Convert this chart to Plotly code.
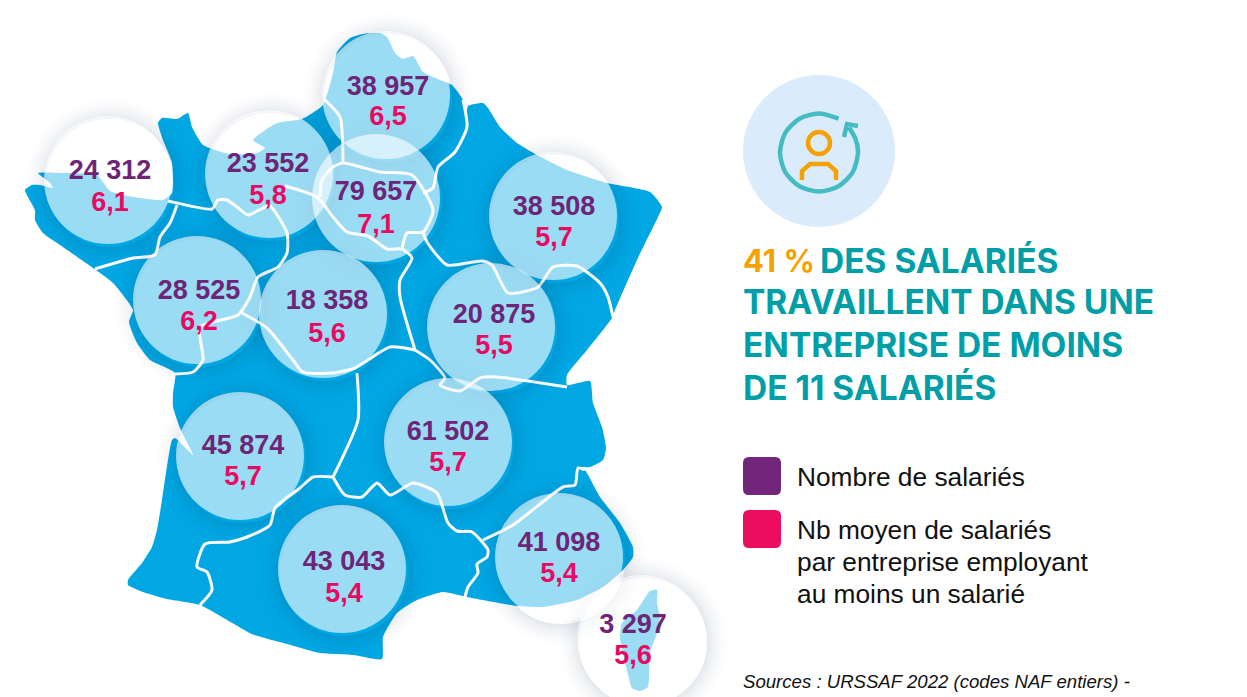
import plotly.graph_objects as go

W, H = 1247, 697

# --- data -------------------------------------------------------------
salaries = [24312, 23552, 38957, 79657, 38508, 28525, 18358, 20875, 45874, 61502, 43043, 41098, 3297]
moyenne = [6.1, 5.8, 6.5, 7.1, 5.7, 6.2, 5.6, 5.5, 5.7, 5.7, 5.4, 5.4, 5.6]
bubble_x = [108, 269, 386, 376, 553, 197, 323, 491, 240, 448, 342, 559, 641]
bubble_y = [180, 174, 95, 198, 216, 300, 314, 327, 456, 442, 569, 557, 639]
label_x = [110, 268, 388, 376, 554, 199, 327, 494, 243, 448, 344, 559, 633]
label1_y = [172, 165, 88, 193, 208, 292, 302, 316, 447, 433, 563, 544, 626]
label2_y = [204, 197, 118, 226, 239, 323, 335, 347, 478, 464, 595, 575, 657]
BUBBLE_D = 128

france = [(25,190),(32,185),(40,185),(53,188),(50,183),(38,173),(67,173),(97,175),(110,191),(133,197),
 (163,200),(172,193),(172,163),(163,140),(158,123),(162,118),(177,119),(188,113),(192,127),(203,145),
 (230,154),(257,153),(265,148),(253,140),(277,123),(302,119),(323,105),(333,73),(337,52),(350,38),
 (363,34),(380,33),(387,37),(395,53),(403,59),(413,56),(423,72),(440,80),(452,85),(463,100),(466,117),
 (468,106),(483,103),(488,108),(500,127),(517,143),(537,155),(567,170),(607,183),(650,192),(662,207),
 (658,217),(637,260),(615,310),(612,318),(587,350),(567,375),(567,385),(590,381),(593,403),(602,427),
 (606,448),(603,460),(590,467),(580,467),(585,470),(600,497),(620,523),(633,547),(633,557),(623,570),
 (603,587),(577,600),(543,607),(517,606),(467,597),(443,592),(417,600),(397,613),(383,637),(382,659),
 (353,655),(320,653),(287,644),(252,634),(200,605),(167,599),(143,592),(128,585),(128,580),(142,563),
 (152,547),(157,530),(162,500),(172,440),(175,438),(193,455),(180,428),(173,407),(173,393),(175,373),
 (150,360),(137,343),(129,322),(133,310),(113,283),(93,268),(63,247),(43,233),(35,220),(35,210)]
corse = [(650,591),(657,590),(657,603),(660,617),(657,633),(650,653),(648,687),(640,691),(632,688),
 (627,670),(620,637),(622,623),(637,610)]

frontieres = [
 [(168,201),(177,203),(212,209),(218,200),(227,200),(237,207),(248,215),(263,208),(270,206),(287,233),
  (287,253),(278,267),(258,277),(250,297),(238,315),(200,327),(203,360),(193,372),(175,374)],
 [(177,205),(170,223),(160,237),(155,255),(133,258),(95,269)],
 [(285,186),(317,197),(333,217),(347,232),(368,236),(387,249),(402,249),(412,258),(400,280),(400,297),(415,350)],
 [(320,197),(322,180),(333,167),(343,163),(380,172),(412,175),(433,210),(423,232),(407,233),(402,249)],
 [(325,100),(340,117),(343,163)],
 [(463,100),(467,127),(455,152),(438,167),(433,188),(423,193)],
 [(423,232),(427,242),(447,265),(482,261),(492,265),(508,293),(538,287),(553,267),(577,266),(600,283),(608,297),(613,317)],
 [(415,350),(430,360),(445,378),(440,385),(460,391),(480,378),(497,377),(567,387)],
 [(242,313),(267,328),(293,360),(303,372),(333,373),(355,368),(390,347),(415,350)],
 [(357,373),(358,420),(333,477)],
 [(333,477),(313,477),(300,488),(275,508),(270,525),(247,537),(230,542),(205,544),(197,567),(207,572),(212,590),(200,605)],
 [(333,477),(345,495),(362,497),(377,483),(390,495),(413,483),(437,493),(448,523),(457,531),(472,532),(488,550),(487,557),(477,564),(478,573),(468,587),(465,597)],
 [(483,540),(513,525),(563,487),(575,485),(578,468),(585,470)],
]

titre = [("DES SALARIÉS", 818, 260), ("TRAVAILLENT DANS UNE", 741, 302),
         ("ENTREPRISE DE MOINS", 741, 345), ("DE 11 SALARIÉS", 741, 387)]
titre_part = "41 %"
legende = [("Nombre de salariés", 477), ("Nb moyen de salariés", 530),
           ("par entreprise employant", 562), ("au moins un salarié", 594)]
source = "Sources : URSSAF 2022 (codes NAF entiers) -"

BLUE, PURPLE, PINK, TEAL, ORANGE = "#00A7E3", "#6E2477", "#E80A62", "#009FA8", "#F5A100"
FONT = "Liberation Sans"

fig = go.Figure()

def xs(p): return [a for a, _ in p]
def ys(p): return [b for _, b in p]

for poly in (france, corse):
    fig.add_trace(go.Scatter(x=xs(poly + poly[:1]), y=ys(poly + poly[:1]), mode="lines", fill="toself",
                             fillcolor=BLUE, line=dict(width=0, color=BLUE, shape="spline", smoothing=0.5),
                             hoverinfo="skip"))
for seg in frontieres:
    fig.add_trace(go.Scatter(x=xs(seg), y=ys(seg), mode="lines",
                             line=dict(color="white", width=3, shape="spline", smoothing=0.6), hoverinfo="skip"))

# soft shadow rings
for k in range(1, 13):
    a = 0.12 * (1 - k / 13) ** 2
    fig.add_trace(go.Scatter(x=[v + 2 for v in bubble_x], y=[v + 3 for v in bubble_y], mode="markers",
                             marker=dict(size=BUBBLE_D + (2 * k - 1) * 2, color="rgba(0,0,0,0)",
                                         line=dict(width=2, color=f"rgba(0,40,80,{a:.4f})")),
                             hoverinfo="skip"))
fig.add_trace(go.Scatter(x=bubble_x, y=bubble_y, mode="markers",
                         marker=dict(size=BUBBLE_D, color="rgba(255,255,255,0.6)", line=dict(width=0)),
                         hoverinfo="skip"))

fig.add_trace(go.Scatter(x=label_x, y=label1_y, mode="text",
                         text=[f"{v:,}".replace(",", " ") for v in salaries],
                         textfont=dict(family=FONT, size=27, color=PURPLE, weight=700), hoverinfo="skip"))
fig.add_trace(go.Scatter(x=label_x, y=label2_y, mode="text",
                         text=[f"{v:.1f}".replace(".", ",") for v in moyenne],
                         textfont=dict(family=FONT, size=27, color=PINK, weight=700), hoverinfo="skip"))

# icon
fig.add_trace(go.Scatter(x=[819], y=[151], mode="markers", marker=dict(size=152, color="#DAECFB", line=dict(width=0)), hoverinfo="skip"))
arc = [(838.5,118.7),(819,113.5),(799.5,118.7),(785.2,133),(780,152.5),(785.2,172),(799.5,186.3),(819,191.5),
       (838.5,186.3),(852.8,172),(858,152.5),(855.6,139),(849,127.4)]
fig.add_trace(go.Scatter(x=xs(arc), y=ys(arc), mode="lines", line=dict(color="#45BCC3", width=4.5, shape="spline", smoothing=0.8), hoverinfo="skip"))
arrow = [(844,137),(847,124),(858,126)]
fig.add_trace(go.Scatter(x=xs(arrow), y=ys(arrow), mode="lines", line=dict(color="#45BCC3", width=4.5), hoverinfo="skip"))
fig.add_trace(go.Scatter(x=[819], y=[143], mode="markers", marker=dict(size=22, color="rgba(0,0,0,0)", line=dict(width=4.5, color=ORANGE)), hoverinfo="skip"))
body = [(802,180),(802,171),(810,164),(828,164),(836,171),(836,180)]
fig.add_trace(go.Scatter(x=xs(body), y=ys(body), mode="lines", line=dict(color=ORANGE, width=4.5), hoverinfo="skip"))

def rrect(x0, y0, x1, y1, r, c):
    return dict(type="path", xref="x", yref="y", fillcolor=c, line=dict(width=0),
                path=f"M{x0+r},{y0} L{x1-r},{y0} Q{x1},{y0} {x1},{y0+r} L{x1},{y1-r} Q{x1},{y1} {x1-r},{y1} "
                     f"L{x0+r},{y1} Q{x0},{y1} {x0},{y1-r} L{x0},{y0+r} Q{x0},{y0} {x0+r},{y0} Z")

shapes = [rrect(743, 457, 781, 495, 6, "#72267A"), rrect(743, 510, 781, 548, 6, "#EC0D60")]

ann = [dict(x=741, y=260, text=titre_part, xref="x", yref="y", xanchor="left", yanchor="middle", showarrow=False,
            font=dict(family="Inter", size=31, color=ORANGE, weight=700))]
for t, x, y in titre:
    ann.append(dict(x=x, y=y, text=t, xref="x", yref="y", xanchor="left", yanchor="middle", showarrow=False,
                    font=dict(family="Inter", size=33.5, color=TEAL, weight=700)))
for t, y in legende:
    ann.append(dict(x=795, y=y, text=t, xref="x", yref="y", xanchor="left", yanchor="middle", showarrow=False,
                    font=dict(family=FONT, size=26.3, color="#111111")))
ann.append(dict(x=741, y=681, text=f"<i>{source}</i>", xref="x", yref="y", xanchor="left", yanchor="middle",
                showarrow=False, font=dict(family=FONT, size=18.6, color="#111111")))

fig.update_layout(width=W, height=H, margin=dict(l=0, r=0, t=0, b=0), showlegend=False,
                  paper_bgcolor="white", plot_bgcolor="white", shapes=shapes, annotations=ann,
                  xaxis=dict(range=[0, W], visible=False, fixedrange=True),
                  yaxis=dict(range=[H, 0], visible=False, fixedrange=True))
fig.write_html("out.html", config=dict(displayModeBar=False),
               post_script="document.body.style.margin='0';document.body.style.overflow='hidden';")
